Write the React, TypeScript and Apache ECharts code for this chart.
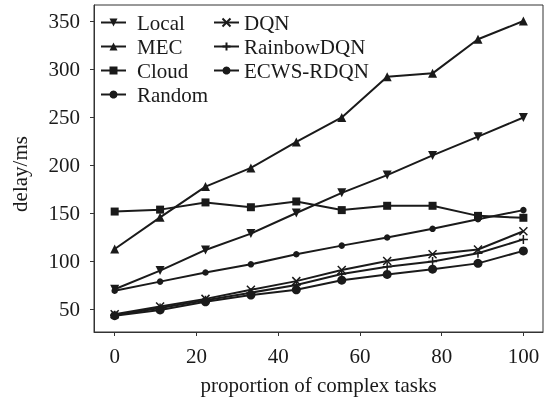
import React, { useEffect, useRef } from "react";
import * as echarts from "echarts";

const xValues = [0, 11.11, 22.22, 33.33, 44.44, 55.56, 66.67, 77.78, 88.89, 100];
const seriesNames = ["Local", "MEC", "Cloud", "Random", "DQN", "RainbowDQN", "ECWS-RDQN"];
const local = [70.5, 90, 111.5, 128.5, 150, 171, 189.5, 210, 229.5, 249.5];
const mec = [112.5, 145.5, 177.5, 197, 224, 249.5, 292, 295.5, 331, 350];
const cloud = [151.5, 153.5, 161, 156, 162, 153, 157.5, 157.5, 147, 145];
const random = [69, 78.5, 88, 96.5, 107, 116, 124.5, 133.5, 143.5, 153];
const dqn = [44.5, 52.5, 60.5, 70, 79, 90.5, 100, 107, 112, 131];
const rainbow = [43.5, 51, 59, 67, 75, 86.5, 94, 99.5, 108, 122.5];
const ecws = [43, 49, 57.5, 64.5, 70, 80, 86, 91.5, 97.5, 110.5];
const yTickValues = [50, 100, 150, 200, 250, 300, 350];
const xTickValues = [0, 20, 40, 60, 80, 100];

const FONT = "Liberation Serif";
const INK = "#1a1a1a";

const symbols: Record<string, { symbol: string; size: number; stroke?: boolean }> = {
  Local: { symbol: "path://M0,0L10,0L5,9Z", size: 9 },
  MEC: { symbol: "path://M5,0L10,9L0,9Z", size: 9 },
  Cloud: { symbol: "rect", size: 8 },
  Random: { symbol: "circle", size: 6.5 },
  DQN: { symbol: "path://M0,0L10,10M10,0L0,10", size: 8, stroke: true },
  RainbowDQN: { symbol: "path://M5,0L5,10M0,5L10,5", size: 9, stroke: true },
  "ECWS-RDQN": { symbol: "circle", size: 9 },
};

export default function App() {
  const ref = useRef<HTMLDivElement>(null);
  useEffect(() => {
    if (!ref.current) return;
    const chart = echarts.init(ref.current, undefined, { renderer: "svg" });
    const dataSets = [local, mec, cloud, random, dqn, rainbow, ecws];
    const series = seriesNames.map((name, i) => {
      const s = symbols[name];
      return {
        name,
        type: "line",
        clip: false,
        data: xValues.map((x, j) => [x, dataSets[i][j]]),
        symbol: s.symbol,
        symbolSize: s.size,
        showAllSymbol: true,
        lineStyle: { color: INK, width: 2 },
        itemStyle: s.stroke
          ? { color: "none", borderColor: INK, borderWidth: 1.5 }
          : { color: INK, borderWidth: 0 },
        emphasis: { disabled: true },
      };
    });
    const legendCommon = {
      orient: "vertical",
      top: 12,
      padding: 0,
      itemWidth: 25,
      itemHeight: 10,
      itemGap: 3,
      textStyle: { fontFamily: FONT, fontSize: 21, color: INK, lineHeight: 21 },
      selectedMode: false,
    };
    chart.setOption({
      animation: false,
      textStyle: { fontFamily: FONT },
      grid: {
        left: 94,
        right: 8,
        top: 5,
        bottom: 66,
        outerBoundsMode: "none",
        containLabel: false,
        show: true,
        borderColor: "#333",
        borderWidth: 1,
        backgroundColor: "transparent",
      },
      legend: [
        {
          ...legendCommon,
          left: 100,
          data: ["Local", "MEC", "Cloud", "Random"],
          textStyle: { ...legendCommon.textStyle, padding: [0, 0, 0, 6] },
        },
        { ...legendCommon, left: 213, data: ["DQN", "RainbowDQN", "ECWS-RDQN"] },
      ],
      xAxis: {
        type: "value",
        min: -5.06,
        max: 104.8,
        name: "proportion of complex tasks",
        nameLocation: "middle",
        nameGap: 42,
        nameTextStyle: { fontFamily: FONT, fontSize: 21, color: INK },
        axisLine: { show: true, onZero: false, lineStyle: { color: "#333", width: 1 } },
        axisTick: { show: true, length: 4, customValues: xTickValues, lineStyle: { color: "#333" } },
        axisLabel: { fontFamily: FONT, fontSize: 21, color: INK, margin: 13, customValues: xTickValues },
        splitLine: { show: false },
      },
      yAxis: {
        type: "value",
        min: 26,
        max: 366.7,
        axisLine: { show: true, onZero: false, lineStyle: { color: "#333", width: 1 } },
        axisTick: { show: true, length: 4, customValues: yTickValues, lineStyle: { color: "#333" } },
        axisLabel: { fontFamily: FONT, fontSize: 21, color: INK, margin: 14, customValues: yTickValues },
        splitLine: { show: false },
      },
      graphic: [
        {
          type: "text",
          x: 20,
          y: 174,
          rotation: Math.PI / 2,
          style: {
            text: "delay/ms",
            fontFamily: FONT,
            fontSize: 21,
            fill: INK,
            align: "center",
            verticalAlign: "middle",
          },
        },
      ],
      series,
    });
    return () => chart.dispose();
  }, []);
  return (
    <div
      ref={ref}
      style={{ width: 551, height: 398, position: "fixed", left: 0, top: 0 }}
    />
  );
}
